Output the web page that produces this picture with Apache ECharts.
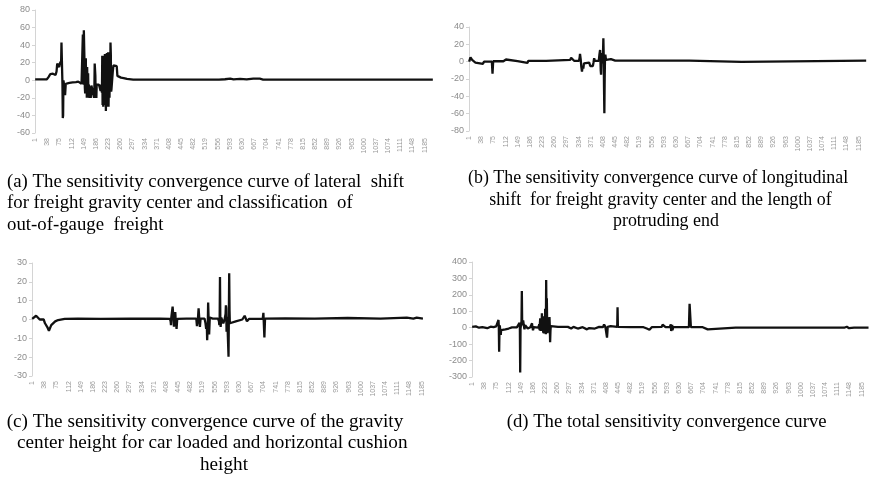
<!DOCTYPE html>
<html>
<head>
<meta charset="utf-8">
<title>Sensitivity convergence curves</title>
<script src="https://cdn.jsdelivr.net/npm/echarts@6/dist/echarts.min.js"></script>
<style>
  html, body { margin: 0; padding: 0; background: #ffffff; }
  #chart { width: 874px; height: 477px; }
</style>
</head>
<body>
<div id="chart"></div>
<script>
// Iteration numbers along the horizontal axis (1 ... 1210)
const sampleCount = 1210;
const iterations = Array.from({ length: sampleCount }, (_, i) => String(i + 1));

// [iteration, sensitivity] readings for each curve
const lateralShift = [
  [1, 1], [20, 1], [37, 1.2], [42, 4], [47, 7], [55, 7.5], [60, 7], [63, 6], [66, 10], [68, 19],
  [72, 18], [74, 15], [76, 19], [79, 20], [80, 22], [81, 43], [82, 43], [83, 10], [84, -5], [85, -43],
  [86, -40], [87, 0], [88, -3], [90, -2], [92, -17], [93, -16], [94, -4], [96, -3], [105, -3], [115, -2.5],
  [125, -2], [132, -1.5], [138, -3], [142, -4], [144, -3], [145, -4], [146, 52], [147, 15], [148, -5], [149, 57],
  [150, 55], [151, 20], [152, -8], [153, -15], [154, 15], [155, 25], [156, -12], [157, 10], [158, -20], [159, 15],
  [160, -5], [161, -18], [162, 8], [163, -20], [164, -5], [166, -6], [168, -18], [169, -8], [170, -20], [172, -6],
  [175, -5], [178, -5], [180, -20], [181, -10], [182, 19], [183, 20], [184, 5], [185, -20], [186, -6], [187, -20],
  [188, -5], [191, -4], [195, -5], [198, -6], [200, -12], [202, -5], [204, -14], [205, 28], [206, -28], [207, 20],
  [208, -30], [209, 10], [210, -20], [211, 28], [212, -28], [213, 30], [214, -25], [215, 25], [216, -35], [217, 30],
  [218, -20], [219, 31], [220, -30], [221, 20], [222, -10], [223, 32], [224, -30], [225, -5], [226, 25], [227, -20],
  [228, 10], [229, -12], [230, 43], [231, 30], [232, -13], [233, -10], [235, -8], [237, 10], [239, 17], [244, 17],
  [249, 16], [251, 5], [255, 4], [262, 3], [270, 2.5], [280, 1.5], [299, 0.8], [400, 0.8], [560, 0.8], [565, 1.8],
  [578, 1.2], [594, 1.8], [604, 1], [624, 1.5], [644, 1], [664, 1.8], [684, 1.8], [694, 0.8], [1210, 0.8]
];

const longitudinalShift = [
  [1, 0], [3, 2], [5, 5], [7, 4], [10, 2], [13, 0.5], [20, -1], [24, -2.5], [43, -2.5], [46, 0],
  [70, 0], [71, 0.5], [72, -14], [73, -14], [74, 0.5], [105, 0.5], [107, 2.5], [113, 2.5], [115, 0.5], [148, 0.5],
  [150, -1.5], [178, -1.5], [181, 1], [235, 1], [238, 2], [308, 2], [311, 4.5], [317, 4.5], [320, 1], [335, 1],
  [337, 5], [338, 9], [340, 3], [342, -6], [344, -11.5], [346, -5], [348, -8], [350, -2], [355, -1], [366, -1],
  [369, -5], [377, -5], [379, -1], [381, 4], [383, 1], [395, 1], [397, 8], [399, 13.5], [400, 3], [401, -10],
  [402, -15], [403, 0], [405, 5], [406, 10], [407, -2], [408, 12], [409, 27], [410, 8], [411, -30], [412, -59.5],
  [413, -20], [414, 5], [415, 8], [417, 2], [420, 3], [432, 3], [436, 2], [445, 1.2], [670, 1.2], [672, -0.3],
  [829, -0.3], [831, 1.1], [1208, 1.1]
];

const gravityHeight = [
  [1, 0.3], [5, 1], [13, 2], [16, 1.5], [19, 2], [24, 0], [36, 0], [40, -2], [47, -4], [52, -6],
  [55, -6], [59, -3], [65, -2], [71, -1], [80, -0.3], [100, 0.3], [140, 0.5], [210, 0.3], [300, 0.5], [390, 0.4],
  [420, 0.3], [422, -1], [423, -3], [424, 1], [428, 6.8], [429, 6], [430, 2], [432, -3.8], [433, -3], [435, 2],
  [436, 4], [437, 1], [440, -5], [441, -4.5], [442, 0.3], [470, 0.5], [500, 0.5], [502, -3.5], [503, -3], [505, 0.5],
  [507, 6], [508, 5.5], [509, 0.5], [511, -4], [512, -3], [513, 0.5], [525, 0.5], [528, -2], [530, -5], [532, -3],
  [533, -11], [534, -10], [535, -2], [536, 9], [537, 8.5], [538, -3], [539, -8], [540, -7], [541, 1], [550, 0.5],
  [566, 0.5], [569, -1], [570, -3], [571, 0], [572, 22.5], [573, 1], [574, -4], [576, 1], [582, -2], [586, 0],
  [589, 3], [590, 7.5], [591, 6], [592, -6.5], [593, -5], [594, 1.5], [597, 2], [598, -19.8], [599, 3], [600, 24.5],
  [601, 5], [602, -2], [605, -1], [620, -1], [640, 0], [647, 2], [652, 1.8], [654, -1], [660, 0.3], [702, 0.3],
  [704, 3.5], [705, 3], [707, -9.5], [708, -9], [709, 0.5], [770, 0.6], [860, 0.5], [960, 0.8], [1060, 0.5], [1140, 1],
  [1160, 0.5], [1170, 1], [1189, 0.5]
];

const totalSensitivity = [
  [1, 5], [12, 8], [22, 0], [32, 3], [47, -3], [57, 6], [66, 3], [74, 8], [78, 15], [80, 20],
  [81, 47], [82, 10], [83, -146], [84, -20], [85, 15], [86, -10], [87, -20], [88, -44], [89, -15], [92, -10],
  [102, -10], [112, -5], [122, 2], [137, 2], [142, 5], [145, 30], [146, 10], [147, -272], [148, -5], [149, 10],
  [151, 40], [152, 223], [153, 30], [154, 15], [156, 45], [158, 15], [160, -10], [162, 15], [165, 5], [170, -5],
  [178, 3], [182, 5], [183, 27], [184, 5], [186, -15], [188, 3], [202, 0], [205, 20], [206, -15], [207, 30],
  [208, 57], [209, -20], [210, 15], [212, -10], [213, 88], [214, -20], [215, 40], [217, -30], [218, 70], [219, -35],
  [220, 20], [222, -20], [223, 115], [224, 20], [225, -40], [226, 290], [227, 40], [228, 179], [229, 10], [230, -34],
  [231, 5], [233, 40], [234, -10], [236, 65], [237, 10], [238, -89], [239, -20], [240, 10], [244, 5], [262, 5],
  [292, 5], [302, -5], [309, 5], [322, -5], [337, 3], [350, -10], [357, -2], [374, -5], [387, 5], [399, 3],
  [402, 20], [405, 30], [406, 5], [408, -20], [411, -60], [412, -30], [413, 5], [422, 10], [442, 5], [443, 125],
  [444, 5], [482, 3], [522, 3], [532, -5], [540, -12], [543, -5], [547, 3], [577, 5], [580, 18], [586, 18],
  [589, 3], [602, 5], [605, 20], [606, -20], [609, 18], [610, -15], [612, 3], [660, 3], [662, 145], [664, 145],
  [666, 3], [702, 3], [717, -10], [719, -10], [722, 0], [802, 0], [1002, 0], [1132, 0], [1140, 6], [1147, -3],
  [1162, 0], [1174, 0], [1179, 8], [1186, 0], [1206, 0]
];

// Axis ranges for the four panels
const yRanges = [
  { min: -60, max: 80, interval: 20 },
  { min: -80, max: 40, interval: 20 },
  { min: -30, max: 30, interval: 10 },
  { min: -300, max: 400, interval: 100 }
];
const panels = [lateralShift, longitudinalShift, gravityHeight, totalSensitivity];

// Caption lines printed under each panel
const captions = [
  { size: 18.8,
    lines: ['(a) The sensitivity convergence curve of lateral  shift',
            'for freight gravity center and classification  of',
            'out-of-gauge  freight'],
    x: [7, 7, 7], y: [181.7, 203.3, 225] },
  { size: 17.9,
    lines: ['(b) The sensitivity convergence curve of longitudinal',
            'shift  for freight gravity center and the length of',
            'protruding end'],
    x: [468, 489.3, 613], y: [178, 200, 221.7] },
  { size: 19.2,
    lines: ['(c) The sensitivity convergence curve of the gravity',
            'center height for car loaded and horizontal cushion',
            'height'],
    x: [6.7, 17, 200], y: [421.7, 443.3, 465] },
  { size: 18.7,
    lines: ['(d) The total sensitivity convergence curve'],
    x: [506.7], y: [421.7] }
];

const grids = [
  { left: 35, top: 10, width: 398, height: 123 },
  { left: 469, top: 27, width: 398, height: 104 },
  { left: 32, top: 263, width: 398, height: 113 },
  { left: 472, top: 262, width: 398, height: 115 }
];

const axisGrey = '#d4d4d4';
const labelGrey = '#8c8c8c';

const option = {
  backgroundColor: '#ffffff',
  animation: false,
  grid: grids,
  xAxis: grids.map((g, i) => ({
    type: 'category',
    gridIndex: i,
    data: iterations,
    boundaryGap: true,
    axisLine: { show: false, onZero: false },
    axisTick: { show: false },
    splitLine: { show: false },
    axisLabel: {
      interval: 36,
      rotate: 90,
      fontSize: 7,
      color: '#999999',
      margin: 5,
      fontFamily: 'Liberation Sans, Arial, sans-serif'
    }
  })),
  yAxis: yRanges.map((r, i) => ({
    type: 'value',
    gridIndex: i,
    min: r.min,
    max: r.max,
    interval: r.interval,
    axisLine: { show: true, lineStyle: { color: axisGrey, width: 1 } },
    axisTick: { show: true, length: 3, lineStyle: { color: axisGrey } },
    splitLine: { show: false },
    axisLabel: {
      fontSize: 9,
      color: labelGrey,
      margin: 5,
      fontFamily: 'Liberation Sans, Arial, sans-serif'
    }
  })),
  series: panels.map((arr, i) => ({
    type: 'line',
    xAxisIndex: i,
    yAxisIndex: i,
    showSymbol: false,
    symbol: 'none',
    lineStyle: { color: '#111111', width: 2.3 },
    data: arr.map(([s, v]) => [s - 1, v])
  })),
  graphic: captions.flatMap(c => c.lines.map((t, k) => ({
    type: 'text',
    x: c.x[k],
    y: c.y[k],
    style: {
      text: t,
      fill: '#000000',
      align: 'left',
      verticalAlign: 'middle',
      font: c.size + 'px "Liberation Serif", "Times New Roman", serif'
    }
  })))
};

const chart = echarts.init(document.getElementById('chart'), null, { renderer: 'canvas' });
chart.setOption(option);
</script>
</body>
</html>
